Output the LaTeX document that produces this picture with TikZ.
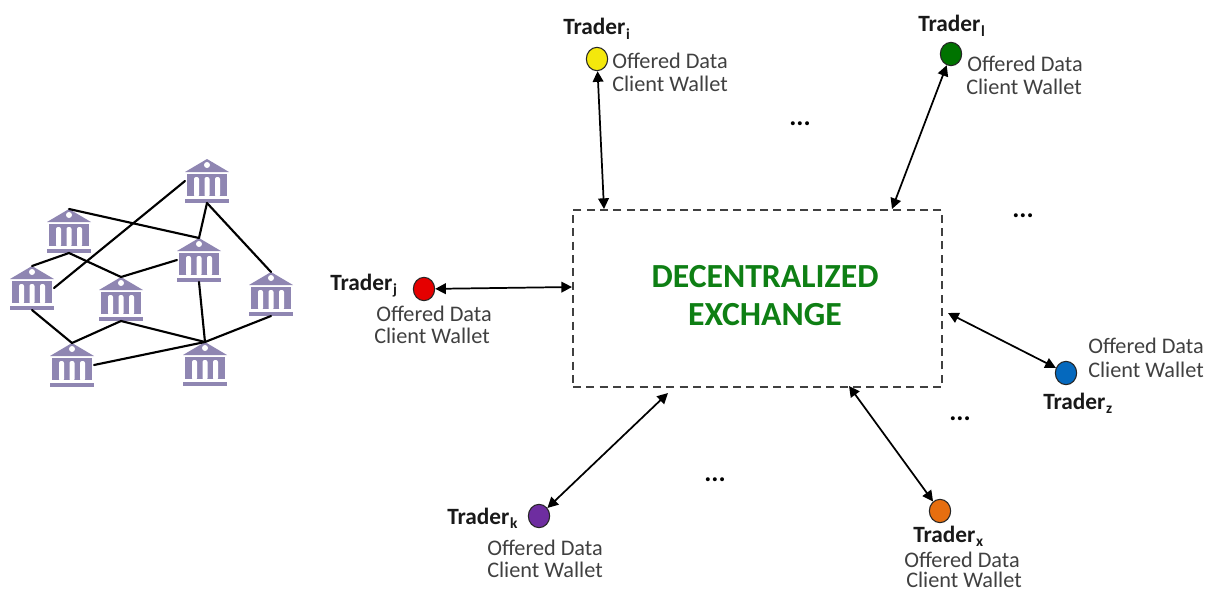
\documentclass[tikz,border=0pt]{standalone}
\usepackage{fontspec}
\setmainfont{Carlito}
\usetikzlibrary{arrows.meta,shapes.geometric}
\definecolor{bankc}{HTML}{8F86B2}
\definecolor{txtc}{HTML}{404040}
\definecolor{dexc}{HTML}{0E7F14}
\newcommand{\tsub}[1]{\kern0.5pt\raisebox{-3.2pt}{\fontsize{11.5}{12}\selectfont #1}}
\tikzset{
  x=0.75pt,y=-0.75pt,
  banknode/.style={minimum width=33pt,minimum height=33pt,inner sep=0pt,outer sep=0pt},
  link/.style={line width=1.6pt,black,line cap=round},
  dex/.style={line width=1.3pt,{Triangle[length=8pt,width=8pt]}-{Triangle[length=8pt,width=8pt]},black},
  dot/.style={ellipse,draw=black!85,line width=0.8pt,minimum width=16pt,minimum height=17.5pt,inner sep=0pt},
  tname/.style={font=\fontsize{17.5}{20}\selectfont\bfseries,text=black!90,inner sep=0pt,anchor=base west},
  tinfo/.style={font=\fontsize{16.7}{19}\selectfont,text=txtc,inner sep=0pt,anchor=west},
  more/.style={font=\fontsize{20}{24}\selectfont\bfseries,text=black,inner sep=0pt},
  dextext/.style={font=\fontsize{25.3}{30}\selectfont\bfseries,text=dexc,inner sep=0pt},
  bankpic/.pic={
    \fill[bankc] (-22,-9) -- (0,-22) -- (22,-9) -- cycle;
    \fill[white] (0,-16) circle (3);
    \fill[bankc] (-20,-7) rectangle (20,15);
    \foreach \sx in {-13,-2.5,8}{
      \fill[white,rounded corners=1.5] (\sx,-4) rectangle ++(5,20);
    }
    \fill[bankc] (-22,17.5) rectangle (22,21.5);
  },
}
\newcommand{\banknd}[3]{\node[banknode] (#1) at (#2,#3) {}; \pic at (#1.center) {bankpic};}
\begin{document}
\begin{tikzpicture}
\useasboundingbox (0,0) rectangle (1206,592);
% banks
\banknd{ba}{207}{181}
\banknd{bb}{69}{231}
\banknd{bc}{199}{260}
\banknd{bd}{32}{288}
\banknd{be}{121}{299}
\banknd{bf}{271}{294}
\banknd{bg}{72}{365}
\banknd{bh}{205}{364}
% bank links
\draw[link] (ba.west) -- (bd.east);
\draw[link] (bb.north) -- (bc.north);
\draw[link] (ba.south) -- (bc.north);
\draw[link] (ba.south) -- (bf.north);
\draw[link] (bd.north) -- (bb.south) -- (be.north);
\draw[link] (bc.west) -- (be.north);
\draw[link] (bc.south) -- (bh.north);
\draw[link] (bd.south) -- (bg.north) -- (be.south) -- (bh.north);
\draw[link] (bg.east) -- (bh.north) -- (bf.south);
% exchange
\node[draw=black!75,dash pattern=on 6pt off 4pt,line width=1.1pt,minimum width=276.75pt,minimum height=132.75pt,inner sep=0pt] (box) at (757.5,298.5) {};
\node[dextext] (dex1) at (765,277) {DECENTRALIZED};
\node[dextext] (dex2) at (765,315) {EXCHANGE};
% traders
\node[dot,fill=yellow!95!black] (ti) at (597,59) {};
\node[dot,fill=red!90!black] (tj) at (424,289) {};
\node[dot,fill=green!45!black] (tl) at (951,54) {};
\node[dot,fill={rgb,255:red,5;green,105;blue,190}] (tz) at (1066,373) {};
\node[dot,fill={rgb,255:red,230;green,110;blue,15}] (tx) at (940,511) {};
\node[dot,fill={rgb,255:red,110;green,45;blue,160}] (tk) at (539,516) {};
% box ends
\coordinate (ei) at (604,209);
\coordinate (ej) at (572,287);
\coordinate (el) at (892,209);
\coordinate (ez) at (948,313);
\coordinate (ex) at (849,386);
\coordinate (ek) at (668,393);
% arrows
\draw[dex] (ti) -- (ei);
\draw[dex] (tj) -- (ej);
\draw[dex] (tl) -- (el);
\draw[dex] (tz) -- (ez);
\draw[dex] (tx) -- (ex);
\draw[dex] (tk) -- (ek);
% names
\node[tname] (ni) at (563,35) {Trader\tsub{i}};
\node[tname] (nj) at (330,290) {Trader\tsub{j}};
\node[tname] (nl) at (918,32) {Trader\tsub{l}};
\node[tname] (nz) at (1043,409) {Trader\tsub{z}};
\node[tname] (nx) at (913,542) {Trader\tsub{x}};
\node[tname] (nk) at (447,524) {Trader\tsub{k}};
% info
\node[tinfo] (oi) at (612,61) {Offered Data};
\node[tinfo] (ci) at (612,84) {Client Wallet};
\node[tinfo] (oj) at (376,314) {Offered Data};
\node[tinfo] (cj) at (374,336) {Client Wallet};
\node[tinfo] (ol) at (967,64) {Offered Data};
\node[tinfo] (cl) at (966,87) {Client Wallet};
\node[tinfo] (oz) at (1088,346) {Offered Data};
\node[tinfo] (cz) at (1088,370) {Client Wallet};
\node[tinfo] (ox) at (904,560) {Offered Data};
\node[tinfo] (cx) at (906,580) {Client Wallet};
\node[tinfo] (ok) at (487,548) {Offered Data};
\node[tinfo] (ck) at (487,570) {Client Wallet};
% dots between traders
\node[more] (m1) at (800,124) {...};
\node[more] (m2) at (1023,216) {...};
\node[more] (m3) at (960,419) {...};
\node[more] (m4) at (715,480) {...};
\end{tikzpicture}
\end{document}
